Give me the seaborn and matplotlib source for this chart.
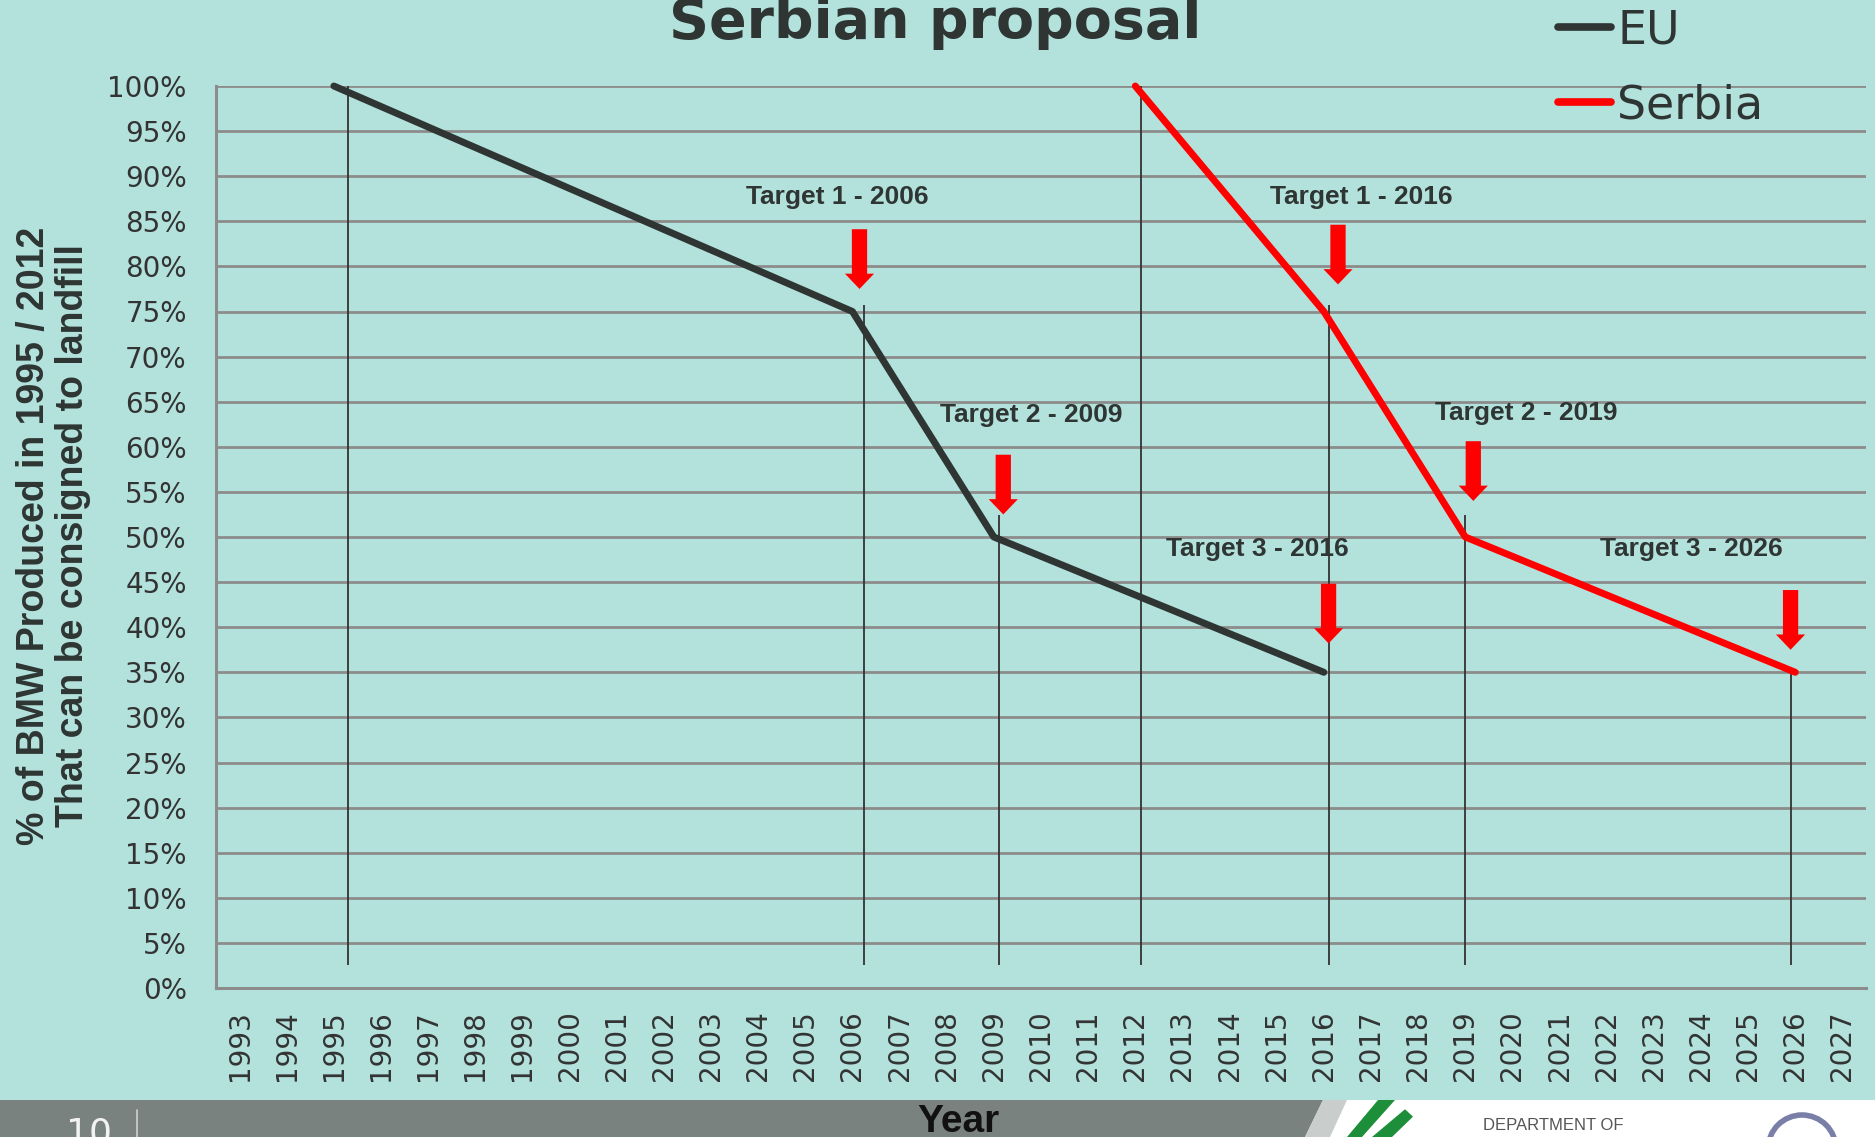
import numpy as np
import pandas as pd
import seaborn as sns
import matplotlib.pyplot as plt
from matplotlib.patches import Rectangle, Polygon, Ellipse

# data
eu_years = [1995, 2006, 2009, 2016]
eu_pct = [100, 75, 50, 35]
serbia_years = [2012, 2016, 2019, 2026]
serbia_pct = [100, 75, 50, 35]

year_ticks = list(range(1993, 2028))
pct_ticks = list(range(0, 101, 5))

# reference lines (year, top %)
vline_years = [1995.3, 2006.25, 2009.1, 2012.12, 2016.1, 2019.0, 2025.9]
vline_tops = [100, 75.7, 52.4, 100, 75.7, 52.4, 35.5]

# target labels and arrows
target_labels = ['Target 1 - 2006', 'Target 2 - 2009', 'Target 3 - 2016',
                 'Target 1 - 2016', 'Target 2 - 2019', 'Target 3 - 2026']
label_x = [2005.68, 2009.8, 2014.58, 2016.8, 2020.3, 2023.8]
label_y = [87.7, 63.5, 48.7, 87.7, 63.8, 48.7]
arrow_x = [2006.15, 2009.2, 2016.1, 2016.3, 2019.17, 2025.9]
arrow_tip = [77.5, 52.5, 38.2, 78, 54, 37.5]

bg = '#b3e2dd'
dark = '#2e3533'

sns.set_theme(style='white', rc={'axes.facecolor': bg, 'figure.facecolor': bg})
plt.rcParams['font.family'] = ['DejaVu Sans']

df = pd.DataFrame({
    'year': eu_years + serbia_years,
    'pct': eu_pct + serbia_pct,
    'series': ['EU'] * len(eu_years) + ['Serbia'] * len(serbia_years),
})

fig = plt.figure(figsize=(18.75, 11.37), dpi=100)
ax = fig.add_axes([216 / 1875, 1 - 988 / 1137, 1650 / 1875, 902 / 1137])

# gridlines
for p in pct_ticks[1:]:
    ax.axhline(p, color='#8c8c8c', lw=2.0, zorder=1)

ax.vlines(vline_years, 2.6, vline_tops, color='#333333', lw=1.3, zorder=2)

sns.lineplot(data=df, x='year', y='pct', hue='series',
             palette={'EU': dark, 'Serbia': '#ff0000'}, lw=5, ax=ax,
             legend=False, zorder=4)
for ln in ax.lines[-2:]:
    ln.set_solid_capstyle('round')
    ln.set_clip_on(False)

for x, y in zip(arrow_x, arrow_tip):
    ax.annotate('', xy=(x, y), xytext=(0, 43), textcoords='offset points',
                arrowprops=dict(arrowstyle='simple,head_length=0.55,head_width=1.05,tail_width=0.55',
                                mutation_scale=20, color='#ff0000', lw=0,
                                shrinkA=0, shrinkB=0), zorder=5)

for t, x, y in zip(target_labels, label_x, label_y):
    ax.text(x, y, t, ha='center', va='center', fontsize=19, fontweight='bold',
            family='Liberation Sans', color=dark, zorder=6)

ax.set_xlim(1992.5, 2027.5)
ax.set_ylim(0, 100)
ax.set_xticks(year_ticks)
ax.set_xticklabels([str(y) for y in year_ticks], rotation=90)
ax.set_yticks(pct_ticks)
ax.set_yticklabels([f'{p}%' for p in pct_ticks])
ax.tick_params(axis='x', length=0, pad=16, labelsize=20, labelcolor='#333333')
ax.tick_params(axis='y', length=0, pad=21, labelsize=20, labelcolor='#333333')
ax.set_xlabel('')
ax.set_ylabel('')
for s in ['top', 'right']:
    ax.spines[s].set_visible(False)
for s in ['left', 'bottom']:
    ax.spines[s].set_color('#8c8c8c')
    ax.spines[s].set_linewidth(2.2)

# legend
h_eu, = ax.plot([], [], color=dark, lw=5.5, solid_capstyle='round')
h_sr, = ax.plot([], [], color='#ff0000', lw=5.5, solid_capstyle='round')
fig.legend([h_eu, h_sr], ['EU', 'Serbia'], loc='upper left',
           bbox_to_anchor=(1558 / 1875, 1 - 8 / 1137), frameon=False, fontsize=33,
           handlelength=1.16, handletextpad=0.13, labelspacing=0.66,
           borderpad=0, borderaxespad=0, labelcolor=dark)

fig.text(0.4987, 1 - 38 / 1137, 'Serbian proposal', ha='center', va='baseline',
         fontsize=40, fontweight='bold', color=dark)

fig.text(0.0285, 0.5286, '% of BMW Produced in 1995 / 2012\nThat can be consigned to landfill',
         rotation=90, ha='center', va='center', multialignment='center',
         fontsize=27, fontweight='bold', family='Liberation Sans', color=dark,
         linespacing=1.1)

# bottom slide band
band_h = 1 - 1100 / 1137
W = 1875
fig.patches.append(Rectangle((0, 0), 1, band_h, transform=fig.transFigure,
                             facecolor='white', edgecolor='none', zorder=0))
fig.patches.append(Polygon([(0, 0), (1305 / W, 0), (1323 / W, band_h), (0, band_h)],
                           closed=True, transform=fig.transFigure,
                           facecolor='#7a8280', edgecolor='none', zorder=1))
fig.patches.append(Polygon([(1305 / W, 0), (1330 / W, 0), (1347 / W, band_h), (1323 / W, band_h)],
                           closed=True, transform=fig.transFigure,
                           facecolor='#c9cdcb', edgecolor='none', zorder=1))
fig.patches.append(Polygon([(1347 / W, 0), (1362 / W, 0), (1395 / W, band_h), (1378 / W, band_h)],
                           closed=True, transform=fig.transFigure,
                           facecolor='#1d8f3a', edgecolor='none', zorder=1))
fig.patches.append(Polygon([(1372 / W, 0), (1392 / W, 0), (1413 / W, band_h * 0.55), (1405 / W, band_h * 0.75)],
                           closed=True, transform=fig.transFigure,
                           facecolor='#1d8f3a', edgecolor='none', zorder=1))
fig.patches.append(Ellipse((1802 / W, -12 / 1137), 68 / W, 68 / 1137, transform=fig.transFigure,
                           facecolor='none', edgecolor='#7a7fa8', lw=4, zorder=1))
fig.text(1553 / W, 1 - 1118 / 1137, 'DEPARTMENT OF', ha='center', va='top', fontsize=12,
         color='#555555', family=['Liberation Sans Narrow', 'Liberation Sans'])
fig.text(66 / W, 1 - 1143 / 1137, '10', ha='left', va='baseline', fontsize=26,
         color='#f2f2f2')
fig.lines.append(plt.Line2D([137 / W, 137 / W], [0, 1 - 1110 / 1137],
                            transform=fig.transFigure, color='#d0d0d0', lw=1.2))
fig.text(958 / W, 1 - 1132 / 1137, 'Year', ha='center', va='baseline', fontsize=28,
         fontweight='bold', family='Liberation Sans', color='#111111')

fig.savefig('out.png', dpi=100, facecolor=bg)
